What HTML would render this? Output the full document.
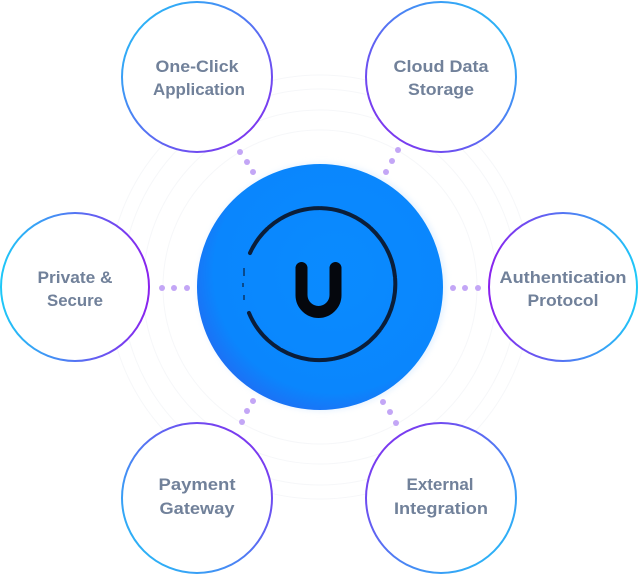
<!DOCTYPE html>
<html><head><meta charset="utf-8"><style>
html,body{margin:0;padding:0;background:#fff;}
body{width:640px;height:576px;overflow:hidden;}
svg{display:block;}
text{font-family:"Liberation Sans",sans-serif;font-weight:bold;font-size:17px;fill:#71819a;text-anchor:middle;}
</style></head><body>
<svg width="640" height="576" viewBox="0 0 640 576" xmlns="http://www.w3.org/2000/svg">
<defs>
<linearGradient id="gTL" x1="0" y1="0" x2="1" y2="1"><stop offset="0" stop-color="#1ec8f8"/><stop offset="1" stop-color="#8a22ee"/></linearGradient>
<linearGradient id="gTR" x1="1" y1="0" x2="0" y2="1"><stop offset="0" stop-color="#1ec8f8"/><stop offset="1" stop-color="#8a22ee"/></linearGradient>
<linearGradient id="gL" x1="0" y1="0" x2="1" y2="0"><stop offset="0" stop-color="#1ec8f8"/><stop offset="1" stop-color="#8a22ee"/></linearGradient>
<linearGradient id="gR" x1="1" y1="0" x2="0" y2="0"><stop offset="0" stop-color="#1ec8f8"/><stop offset="1" stop-color="#8a22ee"/></linearGradient>
<linearGradient id="gBL" x1="0" y1="1" x2="1" y2="0"><stop offset="0" stop-color="#1ec8f8"/><stop offset="1" stop-color="#8a22ee"/></linearGradient>
<linearGradient id="gBR" x1="1" y1="1" x2="0" y2="0"><stop offset="0" stop-color="#1ec8f8"/><stop offset="1" stop-color="#8a22ee"/></linearGradient>
<radialGradient id="blue" cx="0.56" cy="0.44" r="0.6"><stop offset="0" stop-color="#0a8bff"/><stop offset="0.82" stop-color="#0a86fd"/><stop offset="1" stop-color="#1f6ef4"/></radialGradient>
<filter id="glow" x="-20%" y="-20%" width="140%" height="140%"><feGaussianBlur stdDeviation="3"/></filter>
</defs>

<!-- faint background arcs -->
<g fill="none" stroke="#f6f7f9" stroke-width="1">
<circle cx="320" cy="287" r="157"/>
<circle cx="320" cy="287" r="177"/>
<circle cx="320" cy="287" r="198"/>
<circle cx="320" cy="287" r="212"/>
</g>

<!-- central circle -->
<circle cx="322" cy="287" r="124" fill="#d6eaff" filter="url(#glow)" opacity="0.6"/>
<circle cx="320" cy="287" r="123" fill="url(#blue)"/>

<!-- grungy ring -->
<path d="M250 253 A76 76 0 1 1 249 313" fill="none" stroke="#0b0f1e" stroke-width="4" stroke-linecap="round" stroke-dasharray="30 2 14 1 40 2 22 1" opacity="0.88"/>
<path d="M244 268 L244 276 M243 283 L243 287 M244 295 L244 300" stroke="#0b0f1e" stroke-width="2" opacity="0.5"/>

<!-- U -->
<path d="M301.5 268 V295 A17 17 0 0 0 335.5 295 V268" fill="none" stroke="#05070d" stroke-width="12" stroke-linecap="round"/>

<!-- outer circles -->
<g fill="#fff" stroke-width="2">
<circle cx="197" cy="77" r="75" stroke="url(#gTL)"/>
<circle cx="441" cy="77" r="75" stroke="url(#gTR)"/>
<circle cx="75" cy="287" r="74" stroke="url(#gL)"/>
<circle cx="563" cy="287" r="74" stroke="url(#gR)"/>
<circle cx="197" cy="498" r="75" stroke="url(#gBL)"/>
<circle cx="441" cy="498" r="75" stroke="url(#gBR)"/>
</g>

<!-- dots -->
<g fill="#c3a6f6">
<circle cx="240" cy="152" r="3"/><circle cx="247" cy="162" r="3"/><circle cx="253" cy="172" r="3"/>
<circle cx="398" cy="150" r="3"/><circle cx="392" cy="161" r="3"/><circle cx="386" cy="172" r="3"/>
<circle cx="162" cy="288" r="3"/><circle cx="174" cy="288" r="3"/><circle cx="187" cy="288" r="3"/>
<circle cx="453" cy="288" r="3"/><circle cx="465" cy="288" r="3"/><circle cx="478" cy="288" r="3"/>
<circle cx="253" cy="401" r="3"/><circle cx="247" cy="411" r="3"/><circle cx="242" cy="422" r="3"/>
<circle cx="383" cy="402" r="3"/><circle cx="390" cy="412" r="3"/><circle cx="396" cy="423" r="3"/>
</g>

<!-- labels -->
<text x="197" y="72" textLength="83" lengthAdjust="spacingAndGlyphs">One-Click</text>
<text x="199" y="95" textLength="92" lengthAdjust="spacingAndGlyphs">Application</text>
<text x="441" y="72" textLength="95" lengthAdjust="spacingAndGlyphs">Cloud Data</text>
<text x="441" y="95" textLength="66" lengthAdjust="spacingAndGlyphs">Storage</text>
<text x="75" y="283" textLength="75" lengthAdjust="spacingAndGlyphs">Private &amp;</text>
<text x="75" y="306" textLength="56" lengthAdjust="spacingAndGlyphs">Secure</text>
<text x="563" y="283" textLength="127" lengthAdjust="spacingAndGlyphs">Authentication</text>
<text x="563" y="306" textLength="71" lengthAdjust="spacingAndGlyphs">Protocol</text>
<text x="197" y="490" textLength="77" lengthAdjust="spacingAndGlyphs">Payment</text>
<text x="197" y="514" textLength="75" lengthAdjust="spacingAndGlyphs">Gateway</text>
<text x="440" y="490" textLength="67" lengthAdjust="spacingAndGlyphs">External</text>
<text x="441" y="514" textLength="94" lengthAdjust="spacingAndGlyphs">Integration</text>
</svg>
</body></html>
